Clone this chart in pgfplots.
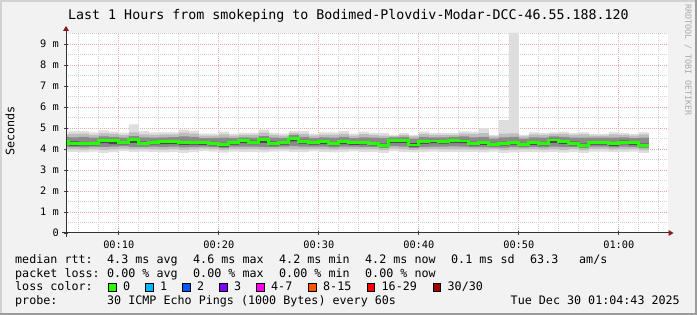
\documentclass[border=0pt]{standalone}
\usepackage{fontspec}
\setmainfont{DejaVu Sans Mono}
\usepackage{pgfplots}
\usepackage{pgfplotstable}
\pgfplotsset{compat=1.18}
\usepgfplotslibrary{fillbetween}

\definecolor{bg}{HTML}{F2F2F2}
\definecolor{frameD}{HTML}{9B9B9B}
\definecolor{frameL}{HTML}{D2D2D2}
\definecolor{mgrid}{HTML}{F0A8A8}
\definecolor{ngrid}{HTML}{D2D2D2}
\definecolor{arrowred}{HTML}{8B1A1A}
\definecolor{sA}{HTML}{DEDEDE}
\definecolor{sB}{HTML}{BDBDBD}
\definecolor{sC}{HTML}{8A8A8A}
\definecolor{sD}{HTML}{4A4A4A}
\definecolor{med}{HTML}{26FF00}
\definecolor{lc0}{HTML}{26FF00}
\definecolor{lc1}{HTML}{00B8FF}
\definecolor{lc2}{HTML}{0059FF}
\definecolor{lc3}{HTML}{7E00FF}
\definecolor{lc4}{HTML}{FF00F0}
\definecolor{lc5}{HTML}{FF5500}
\definecolor{lc6}{HTML}{FF0000}
\definecolor{lc7}{HTML}{A10000}
\definecolor{wm}{HTML}{A8A8A8}
\pagecolor{bg}

\newcommand\legf{\fontsize{11.7bp}{13bp}\selectfont}
\newcommand\titf{\fontsize{13.3bp}{15bp}\selectfont}
\newcommand\axf{\fontsize{10.3bp}{12bp}\selectfont}
\newcommand\wmf{\fontsize{8.4bp}{9bp}\selectfont}

\pgfplotstableread{
t    lo1  lo2  lo3  lo4  med  hi4  hi3  hi2  hi1
4.72 3.88 4.00 4.12 4.26 4.36 4.42 4.58 4.70 4.80
5    3.86 3.98 4.10 4.16 4.27 4.36 4.56 4.72 4.85
6    3.84 3.97 4.08 4.17 4.27 4.34 4.58 4.74 4.85
7    3.88 4.00 4.12 4.18 4.27 4.33 4.55 4.68 4.80
8    3.82 3.96 4.10 4.28 4.41 4.46 4.60 4.75 4.89
9    3.85 3.98 4.12 4.24 4.41 4.47 4.58 4.72 4.83
10   3.90 4.02 4.14 4.22 4.31 4.38 4.54 4.66 4.77
11   3.86 3.98 4.10 4.30 4.44 4.50 4.62 4.80 5.17
12   3.88 4.00 4.10 4.20 4.28 4.35 4.56 4.70 4.85
13   3.86 3.99 4.11 4.22 4.31 4.38 4.55 4.68 4.80
14   3.84 3.97 4.10 4.24 4.35 4.42 4.56 4.70 4.80
15   3.87 4.00 4.12 4.25 4.35 4.42 4.57 4.70 4.80
16   3.82 3.96 4.08 4.20 4.31 4.38 4.60 4.78 4.93
17   3.85 3.98 4.10 4.21 4.31 4.38 4.58 4.74 4.88
18   3.90 4.02 4.12 4.20 4.30 4.36 4.52 4.64 4.73
19   3.88 4.00 4.10 4.17 4.27 4.34 4.52 4.64 4.73
20   3.83 3.96 4.06 4.12 4.22 4.30 4.55 4.70 4.83
21   3.88 4.00 4.12 4.21 4.31 4.38 4.52 4.64 4.73
22   3.86 3.99 4.12 4.28 4.40 4.46 4.56 4.68 4.77
23   3.87 4.00 4.12 4.23 4.33 4.40 4.55 4.67 4.77
24   3.84 3.97 4.10 4.30 4.44 4.50 4.62 4.78 4.93
25   3.88 4.00 4.10 4.18 4.28 4.35 4.54 4.67 4.77
26   3.89 4.01 4.12 4.21 4.31 4.37 4.52 4.64 4.73
27   3.86 3.99 4.14 4.36 4.52 4.57 4.66 4.76 4.85
28   3.85 3.98 4.11 4.26 4.37 4.44 4.58 4.72 4.85
29   3.89 4.01 4.12 4.21 4.31 4.37 4.52 4.64 4.73
30   3.86 3.99 4.11 4.24 4.35 4.42 4.56 4.69 4.80
31   3.84 3.97 4.08 4.17 4.27 4.34 4.55 4.69 4.80
32   3.85 3.98 4.11 4.24 4.35 4.42 4.58 4.72 4.85
33   3.89 4.01 4.12 4.20 4.30 4.36 4.52 4.64 4.73
34   3.85 3.98 4.10 4.21 4.31 4.38 4.56 4.71 4.83
35   3.87 3.99 4.10 4.17 4.27 4.33 4.54 4.66 4.77
36   3.82 3.95 4.05 4.10 4.17 4.26 4.52 4.64 4.76
37   3.90 4.02 4.14 4.30 4.41 4.46 4.56 4.62 4.68
38   3.86 3.99 4.12 4.30 4.41 4.46 4.58 4.68 4.76
39   3.84 3.96 4.06 4.12 4.19 4.28 4.50 4.60 4.68
40   3.85 3.98 4.10 4.25 4.35 4.42 4.58 4.72 4.83
41   3.88 4.00 4.12 4.28 4.38 4.44 4.56 4.68 4.76
42   3.87 3.99 4.12 4.26 4.36 4.42 4.56 4.68 4.76
43   3.86 3.99 4.13 4.30 4.41 4.47 4.58 4.68 4.76
44   3.85 3.98 4.12 4.28 4.38 4.44 4.60 4.74 4.84
45   3.86 3.98 4.09 4.17 4.27 4.34 4.56 4.72 4.83
46   3.84 3.97 4.09 4.20 4.30 4.37 4.58 4.76 5.00
47   3.88 4.00 4.08 4.14 4.22 4.30 4.50 4.60 4.67
48   3.82 3.95 4.07 4.17 4.27 4.34 4.56 4.74 5.38
49   3.84 3.97 4.10 4.21 4.31 4.38 4.58 4.75 9.53
50   3.87 3.99 4.08 4.14 4.23 4.30 4.50 4.60 4.67
51   3.86 3.99 4.10 4.20 4.30 4.37 4.56 4.70 4.80
52   3.84 3.97 4.08 4.17 4.27 4.34 4.55 4.68 4.76
53   3.86 3.99 4.12 4.30 4.43 4.48 4.60 4.72 4.80
54   3.83 3.96 4.10 4.25 4.35 4.42 4.58 4.72 4.83
55   3.87 4.00 4.10 4.18 4.28 4.35 4.55 4.67 4.76
56   3.82 3.94 4.04 4.10 4.17 4.26 4.54 4.70 4.80
57   3.88 4.00 4.12 4.21 4.31 4.37 4.54 4.64 4.72
58   3.88 4.01 4.12 4.21 4.31 4.37 4.54 4.64 4.72
59   3.85 3.97 4.08 4.15 4.25 4.32 4.55 4.70 4.80
60   3.86 3.99 4.11 4.23 4.33 4.40 4.56 4.68 4.76
61   3.88 4.00 4.10 4.20 4.30 4.36 4.52 4.64 4.72
62   3.82 3.94 4.04 4.10 4.17 4.26 4.54 4.70 4.80
63   3.82 3.94 4.04 4.10 4.17 4.26 4.54 4.70 4.80
}\smoke

\begin{document}
\begin{tikzpicture}
\path (0,0) rectangle (697bp,315bp);

\begin{axis}[
  at={(66bp,82bp)}, anchor=south west, scale only axis,
  width=602bp, height=200bp,
  xmin=4.72, xmax=64.92, ymin=0, ymax=9.53,
  axis line style={draw=none},
  tick pos=left,
  xtick={10,20,30,40,50,60},
  xticklabels={00:10,00:20,00:30,00:40,00:50,01:00},
  minor xtick={6,8,12,14,16,18,22,24,26,28,32,34,36,38,42,44,46,48,52,54,56,58,62,64},
  ytick={0,1,2,3,4,5,6,7,8,9},
  yticklabels={0,1 m,2 m,3 m,4 m,5 m,6 m,7 m,8 m,9 m},
  minor ytick={0.5,1.5,2.5,3.5,4.5,5.5,6.5,7.5,8.5,9.5},
  grid=both,
  major grid style={mgrid, line width=1bp, dash pattern=on 1bp off 1bp},
  minor grid style={ngrid, line width=1bp, dash pattern=on 1bp off 1bp},
  major tick length=4bp, minor tick length=0bp, tick align=center,
  tick style={black!75, line width=0.8bp},
  axis background/.style={fill=white},
  xticklabel style={font=\axf, inner sep=0pt, anchor=north, yshift=-5.5bp},
  yticklabel style={font=\axf, inner sep=0pt, anchor=east, xshift=-5bp},
]
\addplot[draw=none, const plot, name path=H1] table[x=t, y=hi1] {\smoke};
\addplot[draw=none, const plot, name path=L1] table[x=t, y=lo1] {\smoke};
\addplot[draw=none, const plot, name path=H2] table[x=t, y=hi2] {\smoke};
\addplot[draw=none, const plot, name path=L2] table[x=t, y=lo2] {\smoke};
\addplot[draw=none, const plot, name path=H3] table[x=t, y=hi3] {\smoke};
\addplot[draw=none, const plot, name path=L3] table[x=t, y=lo3] {\smoke};
\addplot[draw=none, const plot, name path=H4] table[x=t, y=hi4] {\smoke};
\addplot[draw=none, const plot, name path=L4] table[x=t, y=lo4] {\smoke};
\addplot[fill=sA, draw=none] fill between[of=H1 and L1];
\addplot[fill=sB, draw=none] fill between[of=H2 and L2];
\addplot[fill=sC, draw=none] fill between[of=H3 and L3];
\addplot[fill=sD, draw=none] fill between[of=H4 and L4];
\addplot[const plot, draw=med, line width=2.8bp] table[x=t, y=med] {\smoke};
\end{axis}

\begin{scope}[x=1bp,y=1bp]
\fill[frameL] (0,0) rectangle (2,315);
\fill[frameL] (0,313) rectangle (697,315);
\fill[frameD] (695,0) rectangle (697,315);
\fill[frameD] (0,0) rectangle (697,2);
% axis lines and arrows
\draw[black!80, line width=1bp] (62,82) -- (669,82);
\fill[arrowred] (668.5,79) -- (673.5,82) -- (668.5,85) -- cycle;
\draw[black!80, line width=1bp] (66,78) -- (66,284.5);
\fill[arrowred] (63,284) -- (66,289) -- (69,284) -- cycle;

% title
\node[anchor=base west, inner sep=0pt, font=\titf] at (68,296) {Last 1 Hours from smokeping to Bodimed-Plovdiv-Modar-DCC-46.55.188.120};
% watermark
\node[anchor=west, inner sep=0pt, rotate=-90, font=\wmf, text=wm] at (688,311) {RRDTOOL / TOBI OETIKER};
% y label
\node[rotate=90, inner sep=0pt, font=\legf] at (10,184) {Seconds};

% legend rows
\begin{scope}[every node/.style={anchor=base west, inner sep=0pt, font=\legf}]
\node at (15,51.5) {median rtt:};
\node at (107,51.5) {4.3 ms avg};
\node at (193,51.5) {4.6 ms max};
\node at (279,51.5) {4.2 ms min};
\node at (365,51.5) {4.2 ms now};
\node at (451,51.5) {0.1 ms sd};
\node at (530,51.5) {63.3};
\node at (579,51.5) {am/s};
\node at (15,38) {packet loss:};
\node at (107,38) {0.00 \% avg};
\node at (193,38) {0.00 \% max};
\node at (279,38) {0.00 \% min};
\node at (365,38) {0.00 \% now};
\node at (15,24.5) {loss color:};
\node at (123,24.5) {0};
\node at (160,24.5) {1};
\node at (197,24.5) {2};
\node at (234,24.5) {3};
\node at (271,24.5) {4-7};
\node at (323,24.5) {8-15};
\node at (381.5,24.5) {16-29};
\node at (447.5,24.5) {30/30};
\node at (15,10.5) {probe:};
\node at (107,10.5) {30 ICMP Echo Pings (1000 Bytes) every 60s};
\node[anchor=base east] at (680,10.5) {Tue Dec 30 01:04:43 2025};
\end{scope}
\foreach \xx/\cc in {108/lc0,145/lc1,182/lc2,219/lc3,256/lc4,308/lc5,366.5/lc6,432.5/lc7}{
  \filldraw[fill=\cc, draw=black, line width=0.8bp] (\xx+0.4,23.4) rectangle (\xx+8.1,31.1);
}
\end{scope}
\end{tikzpicture}
\end{document}
